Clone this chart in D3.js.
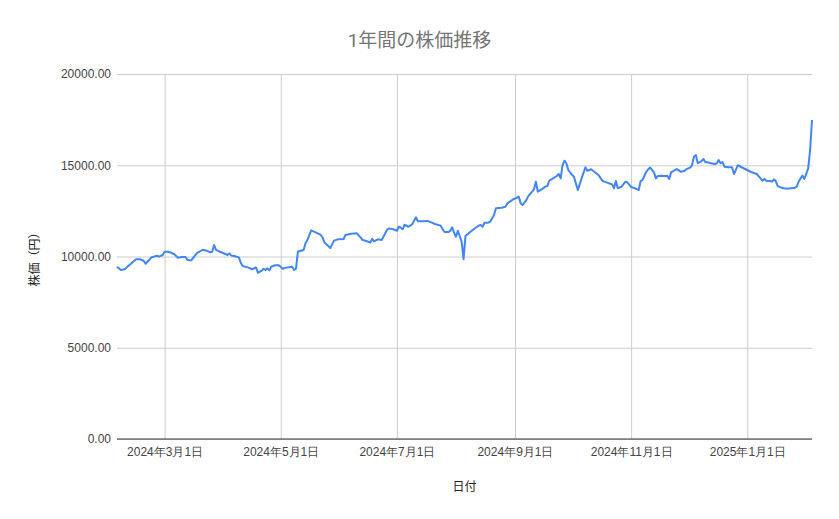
<!DOCTYPE html>
<html>
<head>
<meta charset="utf-8">
<script src="https://cdn.jsdelivr.net/npm/d3@7"></script>
<style>
  html, body { margin: 0; padding: 0; background: #fff; }
  svg { display: block; font-family: Roboto, "Noto Sans CJK JP", sans-serif; }
</style>
</head>
<body>
<div class="main-container"></div>
<script>
// chart data
const title = "1年間の株価推移";
const xTitle = "日付";
const yTitle = "株価（円）";
const yTicks = [0, 5000, 10000, 15000, 20000];

const dates = [
  "2024-02-05","2024-02-06","2024-02-07","2024-02-09","2024-02-10","2024-02-12","2024-02-15","2024-02-17",
  "2024-02-19","2024-02-20","2024-02-22","2024-02-23","2024-02-26","2024-02-27","2024-02-29","2024-03-01",
  "2024-03-03","2024-03-06","2024-03-08","2024-03-10","2024-03-12","2024-03-13","2024-03-15","2024-03-16",
  "2024-03-18","2024-03-21","2024-03-23","2024-03-25","2024-03-26","2024-03-27","2024-03-28","2024-03-30",
  "2024-04-02","2024-04-03","2024-04-04","2024-04-05","2024-04-07","2024-04-09","2024-04-10","2024-04-11",
  "2024-04-14","2024-04-16","2024-04-18","2024-04-19","2024-04-21","2024-04-22","2024-04-23","2024-04-24",
  "2024-04-25","2024-04-26","2024-04-28","2024-04-30","2024-05-02","2024-05-04","2024-05-07","2024-05-08",
  "2024-05-09","2024-05-10","2024-05-11","2024-05-13","2024-05-14","2024-05-15","2024-05-17","2024-05-19",
  "2024-05-22","2024-05-23","2024-05-24","2024-05-26","2024-05-27","2024-05-29","2024-05-31","2024-06-03",
  "2024-06-04","2024-06-07","2024-06-10","2024-06-12","2024-06-13","2024-06-15","2024-06-17","2024-06-18",
  "2024-06-19","2024-06-21","2024-06-23","2024-06-26","2024-06-27","2024-06-29","2024-07-01","2024-07-02",
  "2024-07-03","2024-07-04","2024-07-05","2024-07-07","2024-07-09","2024-07-11","2024-07-12","2024-07-15",
  "2024-07-17","2024-07-19","2024-07-21","2024-07-24","2024-07-25","2024-07-26","2024-07-28","2024-07-29",
  "2024-07-30","2024-07-31","2024-08-01","2024-08-02","2024-08-04","2024-08-05","2024-08-06","2024-08-08",
  "2024-08-11","2024-08-13","2024-08-14","2024-08-15","2024-08-16","2024-08-18","2024-08-19","2024-08-21",
  "2024-08-22","2024-08-25","2024-08-27","2024-08-28","2024-08-31","2024-09-02","2024-09-03","2024-09-04",
  "2024-09-05","2024-09-07","2024-09-08","2024-09-10","2024-09-11","2024-09-12","2024-09-13","2024-09-15",
  "2024-09-17","2024-09-18","2024-09-19","2024-09-21","2024-09-23","2024-09-24","2024-09-25","2024-09-26",
  "2024-09-27","2024-09-28","2024-09-29","2024-10-01","2024-10-02","2024-10-04","2024-10-06","2024-10-08",
  "2024-10-09","2024-10-11","2024-10-13","2024-10-15","2024-10-16","2024-10-17","2024-10-19","2024-10-21",
  "2024-10-22","2024-10-23","2024-10-24","2024-10-25","2024-10-27","2024-10-29","2024-10-30","2024-11-01",
  "2024-11-03","2024-11-05","2024-11-06","2024-11-07","2024-11-09","2024-11-10","2024-11-11","2024-11-13",
  "2024-11-14","2024-11-15","2024-11-17","2024-11-19","2024-11-20","2024-11-21","2024-11-22","2024-11-24",
  "2024-11-25","2024-11-27","2024-11-29","2024-11-30","2024-12-02","2024-12-03","2024-12-04","2024-12-05",
  "2024-12-06","2024-12-08","2024-12-09","2024-12-10","2024-12-11","2024-12-13","2024-12-15","2024-12-16",
  "2024-12-17","2024-12-18","2024-12-19","2024-12-20","2024-12-22","2024-12-24","2024-12-25","2024-12-26",
  "2024-12-27","2024-12-29","2025-01-01","2025-01-03","2025-01-06","2025-01-08","2025-01-09","2025-01-10",
  "2025-01-11","2025-01-13","2025-01-14","2025-01-15","2025-01-16","2025-01-17","2025-01-19","2025-01-21",
  "2025-01-23","2025-01-26","2025-01-27","2025-01-28","2025-01-29","2025-01-30","2025-01-31","2025-02-02",
  "2025-02-03","2025-02-04"
];

const prices = [
  9440, 9350, 9260, 9300, 9400, 9570, 9850, 9850,
  9770, 9600, 9820, 9950, 10040, 9990, 10080, 10260,
  10260, 10140, 9930, 9970, 9970, 9810, 9790, 9930,
  10190, 10370, 10320, 10230, 10260, 10630, 10360, 10260,
  10140, 10080, 10170, 10060, 10010, 9950, 9660, 9480,
  9390, 9300, 9400, 9110, 9220, 9330, 9260, 9350,
  9240, 9440, 9520, 9520, 9330, 9390, 9440, 9260,
  9330, 10260, 10300, 10360, 10720, 10900, 11430, 11340,
  11180, 11030, 10760, 10570, 10460, 10870, 10940, 10960,
  11180, 11250, 11270, 11030, 10900, 10850, 10760, 10970,
  10830, 10940, 10900, 11490, 11540, 11490, 11410, 11630,
  11580, 11490, 11740, 11630, 11760, 12150, 11930, 11930,
  11950, 11870, 11780, 11690, 11510, 11340, 11340, 11400,
  11600, 11300, 11080, 11410, 10810, 9850, 11120, 11300,
  11550, 11690, 11730, 11630, 11850, 11850, 11910, 12270,
  12640, 12670, 12730, 12910, 13130, 13220, 13280, 12910,
  12820, 13100, 13310, 13550, 13680, 14100, 13550, 13680,
  13830, 13860, 14150, 14280, 14410, 14520, 14280, 15010,
  15250, 15110, 14740, 14470, 14370, 13640, 14280, 14890,
  14700, 14780, 14620, 14450, 14280, 14140, 14060, 13990,
  13950, 13740, 14140, 13740, 13830, 14100, 14060, 13810,
  13740, 13640, 14140, 14190, 14650, 14780, 14870, 14610,
  14280, 14410, 14430, 14410, 14430, 14250, 14610, 14740,
  14790, 14650, 14680, 14790, 14870, 15010, 15470, 15560,
  15110, 15230, 15340, 15160, 15160, 15110, 15070, 15110,
  15280, 15110, 15180, 14920, 14890, 14890, 14520, 14740,
  15000, 14890, 14740, 14630, 14520, 14280, 14150, 14250,
  14150, 14140, 14100, 14230, 14120, 13860, 13770, 13720,
  13720, 13770, 13830, 14100, 14280, 14430, 14250, 14830,
  15830, 17480
];

const W = 839, H = 519;
const margin = { top: 74, right: 27, bottom: 80, left: 117 };

const parse = d3.utcParse("%Y-%m-%d");
const data = dates.map((d, i) => ({ date: parse(d), value: prices[i] }));

const svg = d3.select(".main-container").append("svg")
  .attr("width", W).attr("height", H);

const x = d3.scaleUtc()
  .domain(d3.extent(data, d => d.date))
  .range([margin.left, W - margin.right]);
const y = d3.scaleLinear()
  .domain([0, 20000])
  .range([H - margin.bottom, margin.top]);

const fmtDate = d => `${d.getUTCFullYear()}年${d.getUTCMonth() + 1}月${d.getUTCDate()}日`;
const xTicks = x.ticks(d3.utcMonth.every(2));

// horizontal grid + y labels
const yAxis = svg.append("g")
  .attr("transform", `translate(${margin.left},0)`)
  .call(d3.axisLeft(y).tickValues(yTicks).tickFormat(d3.format(".2f"))
    .tickSize(-(W - margin.left - margin.right)).tickPadding(6));
yAxis.select(".domain").remove();
yAxis.selectAll(".tick line").attr("stroke", "#cccccc");
yAxis.selectAll(".tick text").attr("fill", "#444").style("font-size", "12px");

// vertical grid + x labels
const xAxis = svg.append("g")
  .attr("transform", `translate(0,${H - margin.bottom})`)
  .call(d3.axisBottom(x).tickValues(xTicks).tickFormat(fmtDate)
    .tickSize(-(H - margin.top - margin.bottom)).tickPadding(8));
xAxis.select(".domain").remove();
xAxis.selectAll(".tick line").attr("stroke", "#cccccc");
xAxis.selectAll(".tick text").attr("fill", "#444").style("font-size", "12px");

// baseline
svg.append("line")
  .attr("x1", margin.left).attr("x2", W - margin.right)
  .attr("y1", y(0)).attr("y2", y(0))
  .attr("stroke", "#333").attr("stroke-width", 1);

// price line
const line = d3.line().x(d => x(d.date)).y(d => y(d.value));
svg.append("path")
  .datum(data)
  .attr("d", line)
  .attr("fill", "none")
  .attr("stroke", "#4285f4")
  .attr("stroke-width", 2)
  .attr("stroke-linejoin", "round");

// titles
svg.append("text")
  .attr("x", W / 2).attr("y", 47)
  .attr("text-anchor", "middle")
  .attr("fill", "#757575")
  .style("font-size", "19px")
  .text(title);

svg.append("text")
  .attr("x", (margin.left + W - margin.right) / 2).attr("y", 491)
  .attr("text-anchor", "middle")
  .attr("fill", "#222")
  .style("font-size", "12px")
  .text(xTitle);

svg.append("text")
  .attr("transform", `translate(39,${(margin.top + H - margin.bottom) / 2}) rotate(-90)`)
  .attr("text-anchor", "middle")
  .attr("fill", "#222")
  .style("font-size", "12px")
  .text(yTitle);
</script>
</body>
</html>
